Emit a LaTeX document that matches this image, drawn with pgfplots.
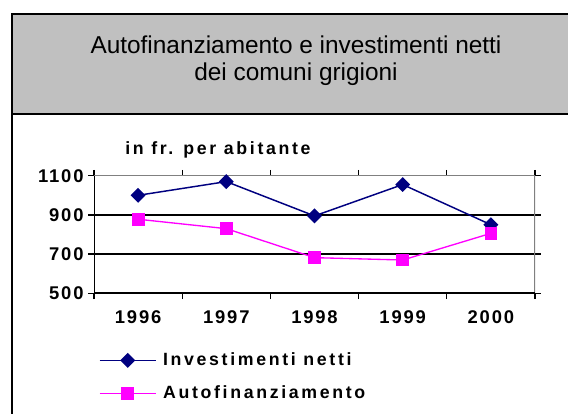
\documentclass[border=0pt]{standalone}
\usepackage{fontspec}
\setmainfont{Liberation Sans}
\usepackage{pgfplots}
\pgfplotsset{compat=1.18}
\definecolor{navyc}{RGB}{0,0,128}
\definecolor{magc}{RGB}{255,0,255}
\definecolor{titlegrey}{RGB}{192,192,192}
\definecolor{bordergrey}{RGB}{128,128,128}
\newcommand{\boldlab}{\bfseries\fontsize{13.8}{16}\selectfont\addfontfeature{LetterSpace=10}}
\newcommand{\boldsub}{\bfseries\fontsize{13.3}{16}\selectfont\addfontfeature{LetterSpace=15}}
\newcommand{\boldleg}{\bfseries\fontsize{13.3}{16}\selectfont\addfontfeature{LetterSpace=15}}
\begin{document}
\begin{tikzpicture}
\useasboundingbox (0pt,0pt) rectangle (426pt,310.5pt);
\begin{scope}[x=0.75pt,y=0.75pt]
\begin{scope}
\clip (0,0) rectangle (568,414);
\fill[white] (0,0) rectangle (568,414);
\fill[titlegrey] (11.5,300) rectangle (600,399.5);
\draw[line width=1.5pt] (600,399.5) -- (11.5,399.5) -- (11.5,-20);
\draw[line width=1.5pt] (11.5,300) -- (600,300);
\end{scope}
\node[anchor=base, inner sep=0pt, font=\fontsize{18.3}{22}\selectfont] at (296,360.7) {Autofinanziamento e investimenti netti};
\node[anchor=base, inner sep=0pt, font=\fontsize{18.3}{22}\selectfont] at (296,333) {dei comuni grigioni};
\node[anchor=base west, inner sep=0pt, font=\boldsub] at (125,259.7) {in fr. per abitante};
\end{scope}
\begin{axis}[
  at={(70.5pt,90.5pt)}, anchor=south west,
  scale only axis, width=330.75pt, height=88.2pt,
  xmin=-0.5, xmax=4.5, ymin=500, ymax=1100,
  xtick={-0.5,0.5,1.5,2.5,3.5,4.5},
  xticklabels={1996,1997,1998,1999,2000,{}},
  xticklabel style={xshift=33.075pt, yshift=-5pt},
  ytick={500,700,900,1100},
  tick align=outside,
  major tick length=4.3pt,
  tick style={black, line width=1pt},
  ymajorgrids, major grid style={black, line width=1pt},
  axis line style={draw=none},
  ticklabel style={font=\boldlab},
  /pgf/number format/assume math mode=true,
  /pgf/number format/1000 sep={},
  legend style={at={(axis description cs:0.0113,-0.4966)}, anchor=north west,
    draw=none, fill=none, inner sep=0pt, outer sep=0pt, row sep=12pt,
    font=\boldleg,
    nodes={inner sep=0pt, text height=10pt, text depth=3pt},
    /tikz/every odd column/.append style={column sep=5pt}},
  legend cell align=left,
  legend image code/.code={\draw[mark repeat=2,mark phase=2,#1] plot coordinates {(0pt,0pt) (21pt,0pt) (42pt,0pt)};},
]
\addplot[navyc, line width=1.1pt, mark=square*, mark size=3.4pt, mark options={rotate=45, solid}]
  coordinates {(0,1000) (1,1070) (2,895) (3,1055) (4,850)};
\addlegendentry{Investimenti netti}
\addplot[magc, line width=1pt, mark=square*, mark size=4.3pt, mark options={solid}]
  coordinates {(0,878) (1,830) (2,682) (3,670) (4,806)};
\addlegendentry{Autofinanziamento}
\draw[bordergrey, line width=1pt] (rel axis cs:0,1) -- (rel axis cs:1,1) -- (rel axis cs:1,0);
\draw[black, line width=1.5pt] (rel axis cs:0,1) -- (rel axis cs:0,0) -- (rel axis cs:1,0);
\end{axis}
\end{tikzpicture}
\end{document}
